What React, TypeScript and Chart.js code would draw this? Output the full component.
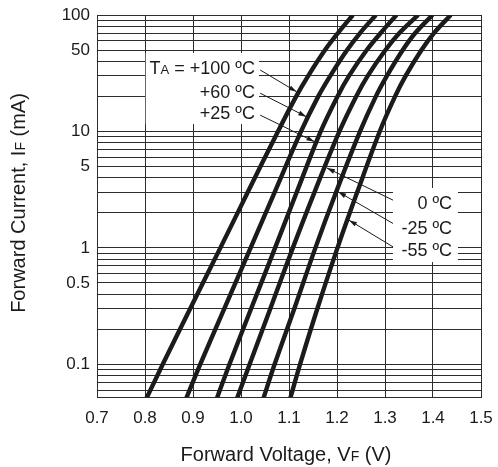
import React, { useEffect, useRef } from 'react';
import { Chart, registerables } from 'chart.js';

Chart.register(...registerables);

const FONT = '"Liberation Sans", Arial, Helvetica, sans-serif';
const INK = '#1c1a1b';
const GRID = '#2c2c2c';

// Forward current levels (mA) at which every curve was read
const currentLevels = [0.05, 0.1, 0.3, 1, 3, 10, 20, 30, 50, 70, 100];

// Forward voltage (V) for each ambient temperature
const vfPlus100 = [0.802, 0.837, 0.894, 0.957, 1.014, 1.077, 1.115, 1.14, 1.175, 1.202, 1.233];
const vfPlus60 = [0.885, 0.915, 0.965, 1.02, 1.07, 1.125, 1.161, 1.186, 1.221, 1.248, 1.281];
const vfPlus25 = [0.949, 0.976, 1.021, 1.071, 1.116, 1.166, 1.201, 1.225, 1.262, 1.291, 1.324];
const vfZero = [0.991, 1.018, 1.061, 1.108, 1.153, 1.205, 1.24, 1.264, 1.301, 1.33, 1.369];
const vfMinus25 = [1.046, 1.07, 1.111, 1.155, 1.198, 1.248, 1.281, 1.304, 1.337, 1.363, 1.399];
const vfMinus55 = [1.102, 1.123, 1.159, 1.201, 1.242, 1.289, 1.321, 1.343, 1.376, 1.402, 1.437];

const temperatureLabels = ['+100 ºC', '+60 ºC', '+25 ºC', '0 ºC', '-25 ºC', '-55 ºC'];

// Axis ticks
const xTickValues = [0.7, 0.8, 0.9, 1.0, 1.1, 1.2, 1.3, 1.4, 1.5];
const yGridValues = [
  0.06, 0.07, 0.08, 0.09, 0.1,
  0.2, 0.3, 0.4, 0.5, 0.6, 0.7, 0.8, 0.9, 1,
  2, 3, 4, 5, 6, 7, 8, 9, 10,
  20, 30, 40, 50, 60, 70, 80, 90, 100,
];
const yLabelledValues = [0.1, 0.5, 1, 5, 10, 50, 100];
const xMin = 0.7;
const xMax = 1.5;
const yMin = 0.0524;
const yMax = 100;

// Annotation anchors, in data units (V, mA)
const upperNoteRight = 1.029;
const upperNoteRows = [35.1, 22.2, 14.4];
const upperLeaderStart = [[1.04, 33.7], [1.04, 21.3], [1.04, 13.8]];
const upperLeaderTip = [[1.116, 21.9], [1.136, 13.4], [1.153, 8.17]];
const upperBox = [0.8015, 1.0375, 11.6, 47.2];

const lowerNoteRight = 1.4396;
const lowerNoteRows = [2.43, 1.51, 0.977];
const lowerLeaderStart = [[1.3167, 2.57], [1.3167, 1.62], [1.3167, 1.02]];
const lowerLeaderTip = [[1.179, 4.85], [1.2025, 3.03], [1.225, 1.73]];
const lowerBox = [1.3167, 1.452, 0.755, 3.27];

type Seg = { t: string; s: number };

function drawRich(ctx: CanvasRenderingContext2D, segs: Seg[], x: number, y: number, align: 'left' | 'right' | 'center') {
  let total = 0;
  const widths = segs.map((sg) => {
    ctx.font = `${sg.s}px ${FONT}`;
    const w = ctx.measureText(sg.t).width;
    total += w;
    return w;
  });
  let cx = align === 'right' ? x - total : align === 'center' ? x - total / 2 : x;
  ctx.textAlign = 'left';
  ctx.textBaseline = 'alphabetic';
  segs.forEach((sg, i) => {
    ctx.font = `${sg.s}px ${FONT}`;
    ctx.fillText(sg.t, cx, y);
    cx += widths[i];
  });
}

function arrow(ctx: CanvasRenderingContext2D, x0: number, y0: number, x1: number, y1: number) {
  ctx.beginPath();
  ctx.moveTo(x0, y0);
  ctx.lineTo(x1, y1);
  ctx.lineWidth = 1;
  ctx.strokeStyle = INK;
  ctx.stroke();
  const a = Math.atan2(y1 - y0, x1 - x0);
  const len = 8;
  const hw = 2.4;
  const bx = x1 - len * Math.cos(a);
  const by = y1 - len * Math.sin(a);
  ctx.beginPath();
  ctx.moveTo(x1, y1);
  ctx.lineTo(bx + hw * Math.sin(a), by - hw * Math.cos(a));
  ctx.lineTo(bx - hw * Math.sin(a), by + hw * Math.cos(a));
  ctx.closePath();
  ctx.fillStyle = INK;
  ctx.fill();
}

const NOTE = 18;
const NOTE_SMALL = 13;
const TITLE = 20;
const TITLE_SMALL = 14;

const notesPlugin = {
  id: 'notes',
  beforeDatasetsDraw(chart: any) {
    const { ctx, scales } = chart;
    const xs = scales.x;
    const ys = scales.y;
    ctx.save();
    ctx.fillStyle = '#ffffff';
    [upperBox, lowerBox].forEach((b) => {
      const x0 = xs.getPixelForValue(b[0]);
      const x1 = xs.getPixelForValue(b[1]);
      const y0 = ys.getPixelForValue(b[3]);
      const y1 = ys.getPixelForValue(b[2]);
      ctx.fillRect(x0, y0, x1 - x0, y1 - y0);
    });
    ctx.restore();
  },
  afterDatasetsDraw(chart: any) {
    const { ctx, scales, chartArea } = chart;
    const xs = scales.x;
    const ys = scales.y;
    ctx.save();
    ctx.fillStyle = INK;
    // upper note
    const ux = xs.getPixelForValue(upperNoteRight);
    upperNoteRows.forEach((v, i) => {
      const y = ys.getPixelForValue(v) + NOTE * 0.36;
      const segs: Seg[] =
        i === 0
          ? [{ t: 'T', s: NOTE }, { t: 'A', s: NOTE_SMALL }, { t: ' = ' + temperatureLabels[0], s: NOTE }]
          : [{ t: temperatureLabels[i], s: NOTE }];
      ctx.fillStyle = INK;
      drawRich(ctx, segs, ux, y, 'right');
    });
    upperLeaderStart.forEach((p, i) => {
      const q = upperLeaderTip[i];
      arrow(ctx, xs.getPixelForValue(p[0]), ys.getPixelForValue(p[1]), xs.getPixelForValue(q[0]), ys.getPixelForValue(q[1]));
    });
    // lower note
    const lx = xs.getPixelForValue(lowerNoteRight);
    lowerNoteRows.forEach((v, i) => {
      const y = ys.getPixelForValue(v) + NOTE * 0.36;
      ctx.fillStyle = INK;
      drawRich(ctx, [{ t: temperatureLabels[i + 3], s: NOTE }], lx, y, 'right');
    });
    lowerLeaderStart.forEach((p, i) => {
      const q = lowerLeaderTip[i];
      arrow(ctx, xs.getPixelForValue(p[0]), ys.getPixelForValue(p[1]), xs.getPixelForValue(q[0]), ys.getPixelForValue(q[1]));
    });
    // axis titles
    ctx.fillStyle = INK;
    const cx = (chartArea.left + chartArea.right) / 2;
    drawRich(
      ctx,
      [{ t: 'Forward Voltage, V', s: TITLE }, { t: 'F', s: TITLE_SMALL }, { t: ' (V)', s: TITLE }],
      cx - 3,
      461,
      'center'
    );
    const cy = (chartArea.top + chartArea.bottom) / 2;
    ctx.save();
    ctx.translate(25, cy - 3);
    ctx.rotate(-Math.PI / 2);
    drawRich(
      ctx,
      [{ t: 'Forward Current, I', s: TITLE }, { t: 'F', s: TITLE_SMALL }, { t: ' (mA)', s: TITLE }],
      0,
      0,
      'center'
    );
    ctx.restore();
    ctx.restore();
  },
};

export default function App() {
  const canvasRef = useRef<HTMLCanvasElement | null>(null);

  useEffect(() => {
    const canvas = canvasRef.current;
    if (!canvas) return;
    const curves = [vfPlus100, vfPlus60, vfPlus25, vfZero, vfMinus25, vfMinus55];
    const chart = new Chart(canvas, {
      type: 'line',
      data: {
        datasets: curves.map((vals, i) => ({
          label: temperatureLabels[i],
          data: currentLevels.map((c, j) => ({ x: vals[j], y: c })),
          borderColor: INK,
          backgroundColor: INK,
          borderWidth: 4.4,
          pointRadius: 0,
          pointHoverRadius: 0,
          tension: 0.35,
          fill: false,
        })),
      },
      options: {
        animation: false,
        responsive: true,
        maintainAspectRatio: false,
        events: [],
        layout: { padding: { left: 0, right: 17, top: 15, bottom: 0 } },
        plugins: {
          legend: { display: false },
          tooltip: { enabled: false },
          title: { display: false },
        },
        scales: {
          x: {
            type: 'linear',
            min: xMin,
            max: xMax,
            afterBuildTicks: (s: any) => {
              s.ticks = xTickValues.map((v) => ({ value: v }));
            },
            afterFit: (s: any) => {
              s.height = 70;
              s.paddingLeft = 0;
              s.paddingRight = 0;
              s.paddingTop = 0;
              s.paddingBottom = 0;
            },
            ticks: {
              autoSkip: false,
              maxRotation: 0,
              padding: 11,
              color: INK,
              font: { family: FONT, size: 17 },
              callback: (v: any) => Number(v).toFixed(1),
            },
            grid: { color: GRID, lineWidth: 1, drawTicks: false },
            border: { color: GRID, width: 1 },
          },
          y: {
            type: 'logarithmic',
            min: yMin,
            max: yMax,
            afterBuildTicks: (s: any) => {
              s.ticks = yGridValues.map((v) => ({ value: v }));
            },
            afterFit: (s: any) => {
              s.width = 97;
              s.paddingLeft = 0;
              s.paddingRight = 0;
              s.paddingTop = 0;
              s.paddingBottom = 0;
            },
            ticks: {
              autoSkip: false,
              padding: 7,
              color: INK,
              font: { family: FONT, size: 17 },
              callback: (v: any) => {
                const n = Number(v);
                return yLabelledValues.some((l) => Math.abs(l - n) < 1e-9) ? String(n) : '';
              },
            },
            grid: { color: GRID, lineWidth: 1, drawTicks: false },
            border: { color: GRID, width: 1 },
          },
        },
      } as any,
      plugins: [notesPlugin],
    });
    return () => chart.destroy();
  }, []);

  return (
    <div style={{ position: 'fixed', left: 0, top: 0, width: 498, height: 467, background: '#ffffff' }}>
      <canvas ref={canvasRef} />
    </div>
  );
}
